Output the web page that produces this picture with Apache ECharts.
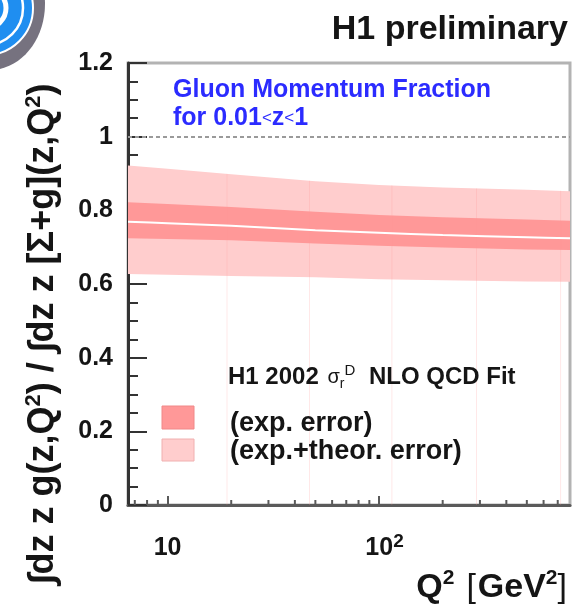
<!DOCTYPE html>
<html>
<head>
<meta charset="utf-8">
<script src="https://cdn.jsdelivr.net/npm/echarts@6/dist/echarts.min.js"></script>
<style>
  html, body { margin: 0; padding: 0; background: #ffffff; }
  #chart { width: 573px; height: 606px; }
</style>
</head>
<body>
<div id="chart"></div>
<script>
// Q^2 nodes [GeV^2] at which the fit bands are sampled
const q2 = [6.5, 10, 20, 50, 100, 200, 500, 800];
// central value of the gluon momentum fraction
const centralFit = [0.769, 0.765, 0.758, 0.746, 0.739, 0.733, 0.727, 0.724];
// experimental error band
const expLow  = [0.724, 0.722, 0.719, 0.710, 0.704, 0.699, 0.694, 0.692];
const expHigh = [0.822, 0.817, 0.809, 0.796, 0.787, 0.781, 0.775, 0.772];
// experimental + theoretical error band
const totLow  = [0.627, 0.625, 0.622, 0.618, 0.613, 0.610, 0.607, 0.606];
const totHigh = [0.922, 0.913, 0.898, 0.879, 0.869, 0.862, 0.856, 0.852];
// x axis ticks
const xMajorTicks = [10, 100];
const xMinorTicks = [7, 8, 9, 20, 30, 40, 50, 60, 70, 80, 90, 200, 300, 400, 500, 600, 700];
// joins between the fitted band segments (drawn as faint rules)
const segmentEdges = [19.1, 46.9, 115, 289, 722];

const FONT = '"Liberation Sans", Arial, Helvetica, sans-serif';
const INK = '#151515';
const BLUE = '#2b2bff';
const DARK_BAND = '#ff9898';
const LIGHT_BAND = '#ffcdcd';

function pairs(ys) { return q2.map((q, i) => [q, ys[i]]); }
function topAt(q) {
  const lq = Math.log10(q);
  for (let i = 0; i < q2.length - 1; i++) {
    const a = Math.log10(q2[i]), b = Math.log10(q2[i + 1]);
    if (lq <= b) return totHigh[i] + (totHigh[i + 1] - totHigh[i]) * (lq - a) / (b - a);
  }
  return totHigh[totHigh.length - 1];
}

// a filled band between a lower and an upper curve, drawn as one polygon
function bandSeries(name, lower, upper, color, z) {
  return {
    type: 'custom', name: name, silent: true, z: z,
    data: [0],
    clip: true,
    renderItem: (params, api) => {
      const pts = [];
      for (let i = 0; i < q2.length; i++) pts.push(api.coord([q2[i], upper[i]]));
      for (let i = q2.length - 1; i >= 0; i--) pts.push(api.coord([q2[i], lower[i]]));
      return { type: 'polygon', shape: { points: pts }, style: { fill: color } };
    }
  };
}

const chart = echarts.init(document.getElementById('chart'), null, { renderer: 'canvas' });

chart.setOption({
  animation: false,
  backgroundColor: '#ffffff',
  grid: { left: 128, top: 63, right: 3, bottom: 101, show: true,
          borderColor: '#b3b3b3', borderWidth: 3, backgroundColor: 'transparent' },
  xAxis: {
    type: 'log', logBase: 10, min: 6.5, max: 800,
    axisLine: { show: true, onZero: false, lineStyle: { color: '#5a5a5a', width: 3 } },
    axisTick: { show: true, inside: true, length: 9, customValues: xMajorTicks,
                lineStyle: { color: '#5a5a5a', width: 2 } },
    axisLabel: { show: true, customValues: xMajorTicks, margin: 27,
      formatter: v => (Math.abs(v - 100) < 1e-6 ? '{pad|}{n|10}{sup|2}' : '{n|' + Math.round(v) + '}'),
      rich: {
        n: { fontFamily: FONT, fontWeight: 'bold', fontSize: 25, color: INK, lineHeight: 32 },
        sup: { fontFamily: FONT, fontWeight: 'bold', fontSize: 19, color: INK, verticalAlign: 'top', lineHeight: 19 },
        pad: { width: 11 }
      } },
    splitLine: { show: false },
    minorTick: { show: false }
  },
  yAxis: {
    type: 'value', min: 0, max: 1.2, interval: 0.2,
    axisLine: { show: true, lineStyle: { color: '#333333', width: 3 } },
    axisTick: { show: true, inside: true, length: 19, lineStyle: { color: '#333333', width: 2 } },
    minorTick: { show: true, splitNumber: 4, length: 10, lineStyle: { color: '#333333', width: 2 } },
    axisLabel: { margin: 15, fontFamily: FONT, fontWeight: 'bold', fontSize: 25, color: INK },
    splitLine: { show: false }
  },
  series: [
    bandSeries('exp.+theor. error', totLow, totHigh, LIGHT_BAND, 2),
    bandSeries('exp. error', expLow, expHigh, DARK_BAND, 3),
    {
      // faint rules at the segment joins of the band
      type: 'custom', name: 'joins', silent: true, z: 4,
      data: segmentEdges,
      renderItem: (params, api) => {
        const q = api.value(0);
        const p0 = api.coord([q, 0]);
        const p1 = api.coord([q, topAt(q)]);
        return { type: 'line', shape: { x1: p0[0], y1: p0[1], x2: p1[0], y2: p1[1] },
                 style: { stroke: 'rgba(255,150,150,0.22)', lineWidth: 1 } };
      }
    },
    {
      type: 'line', name: 'central', data: pairs(centralFit), smooth: 0.3, symbol: 'none',
      silent: true, z: 5, lineStyle: { color: '#ffffff', width: 2 },
      markLine: {
        silent: true, symbol: 'none', label: { show: false },
        lineStyle: { color: '#9a9a9a', type: [4, 3], width: 2 },
        data: [{ yAxis: 1 }]
      }
    },
    {
      // minor ticks on the logarithmic Q^2 axis
      type: 'custom', name: 'xminor', silent: true, z: 6,
      data: xMinorTicks,
      renderItem: (params, api) => {
        const p = api.coord([api.value(0), 0]);
        return { type: 'line', shape: { x1: p[0], y1: p[1], x2: p[0], y2: p[1] - 5 },
                 style: { stroke: '#5a5a5a', lineWidth: 2 } };
      }
    }
  ],
  graphic: [
    // H1 logo in the corner
    { type: 'ellipse', shape: { cx: -10, cy: 4, rx: 55, ry: 66 }, style: { fill: '#76727f' }, z: 10 },
    { type: 'circle', shape: { cx: -14, cy: 8, r: 47 }, style: { fill: '#1f8ef0', stroke: '#ffffff', lineWidth: 2 }, z: 11 },
    { type: 'circle', shape: { cx: -14, cy: 8, r: 37 }, style: { fill: 'none', stroke: '#ffffff', lineWidth: 2.5 }, z: 12 },
    { type: 'circle', shape: { cx: -14, cy: 8, r: 20 }, style: { fill: 'none', stroke: '#ffffff', lineWidth: 5 }, z: 12 },

    { type: 'text', x: 568, y: 30, z: 20,
      style: { text: 'H1 preliminary', fill: INK, font: 'bold 34px ' + FONT, align: 'right', verticalAlign: 'middle' } },

    { type: 'text', x: 173, y: 90, z: 20,
      style: { text: 'Gluon Momentum Fraction', fill: BLUE, font: 'bold 25px ' + FONT,
               align: 'left', verticalAlign: 'middle' } },
    { type: 'text', x: 173, y: 118, z: 20,
      style: { text: '{b|for 0.01}{s|<}{b|z}{s|<}{b|1}', align: 'left', verticalAlign: 'middle',
               rich: { b: { fill: BLUE, fontFamily: FONT, fontWeight: 'bold', fontSize: 25 },
                       s: { fill: BLUE, fontFamily: FONT, fontWeight: 'normal', fontSize: 17 } } } },

    // legend
    { type: 'text', x: 228, y: 377, z: 20,
      style: { text: '{b|H1 2002 }{g|σ}{sub|r}{sup|D}{b| NLO QCD Fit}', align: 'left', verticalAlign: 'middle',
               rich: { b: { fill: INK, fontFamily: FONT, fontWeight: 'bold', fontSize: 24, lineHeight: 28 },
                       g: { fill: INK, fontFamily: FONT, fontWeight: 'normal', fontSize: 20, lineHeight: 28, padding: [0, 0, 0, 2] },
                       sub: { fill: INK, fontFamily: FONT, fontWeight: 'normal', fontSize: 14, verticalAlign: 'bottom', lineHeight: 14 },
                       sup: { fill: INK, fontFamily: FONT, fontWeight: 'normal', fontSize: 15, verticalAlign: 'top', lineHeight: 15, padding: [0, 7, 0, 0] } } } },
    { type: 'rect', shape: { x: 162, y: 406, width: 32, height: 23 }, z: 20,
      style: { fill: DARK_BAND, stroke: '#f08888', lineWidth: 1 } },
    { type: 'rect', shape: { x: 162, y: 439, width: 32, height: 22 }, z: 20,
      style: { fill: LIGHT_BAND, stroke: '#f0b0b0', lineWidth: 1 } },
    { type: 'text', x: 230, y: 424, z: 20,
      style: { text: '(exp. error)', fill: INK, font: 'bold 27px ' + FONT, align: 'left', verticalAlign: 'middle' } },
    { type: 'text', x: 230, y: 452, z: 20,
      style: { text: '(exp.+theor. error)', fill: INK, font: 'bold 27px ' + FONT, align: 'left', verticalAlign: 'middle' } },

    // axis titles
    { type: 'text', x: 569, y: 588, z: 20,
      style: { text: '{m|Q}{sup|2}{sp|}{br|[}{m|GeV}{sup|2}{br|]}', align: 'right', verticalAlign: 'middle',
               rich: { m: { fill: INK, fontFamily: FONT, fontWeight: 'bold', fontSize: 34, lineHeight: 40 },
                       sup: { fill: INK, fontFamily: FONT, fontWeight: 'bold', fontSize: 21, verticalAlign: 'top', lineHeight: 21 },
                       sp: { width: 12 },
                       br: { fill: INK, fontFamily: FONT, fontWeight: 'normal', fontSize: 34, lineHeight: 40, padding: [0, 2, 0, 0] } } } },
    { type: 'text', x: 43, y: 334, rotation: Math.PI / 2, z: 20,
      style: { text: '{m|∫dz z g(z,Q}{sup|2}{m|) / ∫dz z [Σ+g](z,Q}{sup|2}{m|)}', align: 'center', verticalAlign: 'middle',
               rich: { m: { fill: INK, fontFamily: FONT, fontWeight: 'bold', fontSize: 36, lineHeight: 41 },
                       sup: { fill: INK, fontFamily: FONT, fontWeight: 'bold', fontSize: 22, verticalAlign: 'top', lineHeight: 22 } } } }
  ]
});
</script>
</body>
</html>
